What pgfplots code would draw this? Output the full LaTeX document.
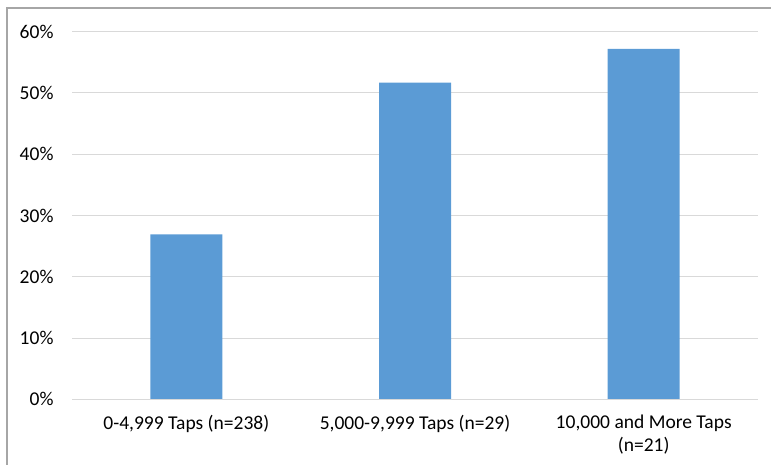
\documentclass[border=0pt]{standalone}
\usepackage{fontspec}
\setmainfont{Carlito}
\usepackage{pgfplots}
\pgfplotsset{compat=1.18}
\definecolor{barblue}{HTML}{5B9BD5}
\definecolor{gridgray}{HTML}{D9D9D9}
\definecolor{framegray}{HTML}{A6A6A6}
\begin{document}
\begin{tikzpicture}[x=1bp,y=1bp]
\useasboundingbox (0,0) rectangle (771,465);
% chart frame (only the top and left edges fall inside the picture)
\draw[framegray, line width=1.2bp] (7,0) -- (7,457) -- (771,457);
\begin{axis}[
  at={(72bp,65.7bp)}, anchor=south west,
  scale only axis,
  width=686bp, height=367.6bp,
  xmin=-0.5, xmax=2.5,
  ymin=0, ymax=60,
  ytick={0,10,...,60},
  xtick={0,1,2},
  xticklabels={{0-4,999 Taps (n=238)},{5,000-9,999 Taps (n=29)},{10,000 and More Taps\\(n=21)}},
  font=\fontsize{19.6}{23}\selectfont,
  /pgf/number format/assume math mode=true,
  yticklabel={\pgfmathprintnumber{\tick}\%},
  yticklabel style={anchor=east, xshift=-15bp},
  xticklabel style={align=center, anchor=north, yshift=-12bp},
  major tick length=0pt,
  axis line style={draw=none},
  ymajorgrids,
  grid style={gridgray, line width=1bp},
]
\addplot[ybar, bar width=72bp, fill=barblue, draw=none] coordinates {
  (0,26.9) (1,51.7) (2,57.2)
};
\draw[gridgray, line width=1bp] (axis cs:-0.5,0) -- (axis cs:2.5,0);
\end{axis}
\end{tikzpicture}
\end{document}
